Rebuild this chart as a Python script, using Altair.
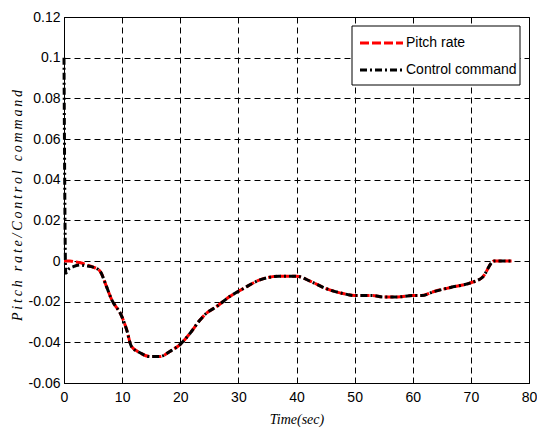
import altair as alt
import pandas as pd

# Time axis (s) and signal values for the two traces
t_pitch = [0, 1.0, 2.0, 3.0, 4.0, 5.0, 6.2, 7.3, 8.2, 9.9, 10.8, 11.6, 13.0, 14.8,
           16.5, 18.2, 20.0, 21.7, 23.4, 24.5, 26.2, 28.5, 30.9, 33.7, 37.0, 40.0,
           42.4, 45.0, 48.0, 50.0, 53.0, 55.0, 57.4, 60.0, 61.5, 63.7, 66.5, 70.0,
           72.0, 74.0, 77.0]
pitch_rate = [0.0, 0.0, -0.0005, -0.001, -0.002, -0.003, -0.005, -0.0125, -0.019,
              -0.027, -0.034, -0.042, -0.045, -0.047, -0.047, -0.0445, -0.041,
              -0.0355, -0.029, -0.0257, -0.0225, -0.0175, -0.0135, -0.0093, -0.0075,
              -0.0075, -0.010, -0.0135, -0.016, -0.017, -0.017, -0.0177, -0.0177,
              -0.017, -0.017, -0.015, -0.013, -0.0107, -0.008, 0.0, 0.0]

t_control = [0, 0.3, 0.8, 1.6, 2.8, 4.0, 5.0, 6.2, 7.3, 8.2, 9.9, 10.8, 11.6, 13.0,
             14.8, 16.5, 18.2, 20.0, 21.7, 23.4, 24.5, 26.2, 28.5, 30.9, 33.7, 37.0,
             40.0, 42.4, 45.0, 48.0, 50.0, 53.0, 55.0, 57.4, 60.0, 61.5, 63.7, 66.5,
             70.0, 72.0, 74.0, 77.0]
control_cmd = [0.1, -0.006, -0.004, -0.0028, -0.002, -0.0025, -0.003, -0.005, -0.0125,
               -0.019, -0.027, -0.034, -0.042, -0.045, -0.047, -0.047, -0.0445, -0.041,
               -0.0355, -0.029, -0.0257, -0.0225, -0.0175, -0.0135, -0.0093, -0.0075,
               -0.0075, -0.010, -0.0135, -0.016, -0.017, -0.017, -0.0177, -0.0177,
               -0.017, -0.017, -0.015, -0.013, -0.0107, -0.008, 0.0, 0.0]

series_names = ["Pitch rate", "Control command"]
x_ticks = [0, 10, 20, 30, 40, 50, 60, 70, 80]
y_ticks = [-0.06, -0.04, -0.02, 0, 0.02, 0.04, 0.06, 0.08, 0.1, 0.12]

pitch_df = pd.DataFrame({"t": t_pitch, "v": pitch_rate})
control_df = pd.DataFrame({"t": t_control, "v": control_cmd})

W, H = 465, 366

ytitle = "\u2009".join("Pitch rate/Control command")

x_enc = alt.X("t:Q", scale=alt.Scale(domain=[0, 80], nice=False),
              axis=alt.Axis(values=x_ticks, title="Time(sec)", labelFlush=False))
y_enc = alt.Y("v:Q", scale=alt.Scale(domain=[-0.06, 0.12], nice=False),
              axis=alt.Axis(values=y_ticks, title=ytitle,
                            titleX=-47, titleY=188, titleAngle=-90,
                            titleAlign="center", titleBaseline="middle",
                            labelExpr="replace(format(datum.value, '.2~f'), '\u2212', '-')"))

pitch_line = alt.Chart(pitch_df).mark_line(
    color="#ff0000", strokeWidth=3, strokeDash=[9, 3], interpolate="monotone"
).encode(x=x_enc, y=y_enc)

control_line = alt.Chart(control_df).mark_line(
    color="#000000", strokeWidth=3, strokeDash=[7, 3, 2, 3], interpolate="monotone"
).encode(x="t:Q", y="v:Q")

# Legend box in the upper right corner
one = pd.DataFrame({"k": [0]})
box = alt.Chart(one).mark_rect(
    fill="white", stroke="black", strokeWidth=1
).encode(x=alt.value(288), x2=alt.value(456), y=alt.value(9), y2=alt.value(68))

leg_pitch = alt.Chart(one).mark_rule(
    color="#ff0000", strokeWidth=3, strokeDash=[9, 3]
).encode(x=alt.value(296), x2=alt.value(339), y=alt.value(26))
leg_control = alt.Chart(one).mark_rule(
    color="#000000", strokeWidth=3, strokeDash=[7, 3, 2, 3]
).encode(x=alt.value(296), x2=alt.value(339), y=alt.value(53))

leg_style = dict(align="left", baseline="middle", font="Liberation Sans",
                 fontSize=14, color="black")
leg_text1 = alt.Chart(one).mark_text(text=series_names[0], **leg_style).encode(
    x=alt.value(342), y=alt.value(26))
leg_text2 = alt.Chart(one).mark_text(text=series_names[1], **leg_style).encode(
    x=alt.value(342), y=alt.value(53))

chart = alt.layer(
    pitch_line, control_line, box, leg_pitch, leg_control, leg_text1, leg_text2
).properties(
    width=W, height=H,
    autosize=alt.AutoSizeParams(type="none"),
    padding={"left": 64, "top": 17, "right": 8, "bottom": 50},
    background="white",
).configure_view(
    stroke="black", strokeWidth=1
).configure_axis(
    domainColor="black", domainWidth=1,
    grid=True, gridColor="black", gridDash=[6, 4], gridWidth=1, gridOpacity=1,
    tickSize=0,
    labelFont="Liberation Sans", labelFontSize=14, labelColor="black",
    titleFont="Liberation Serif", titleFontStyle="italic", titleFontWeight="normal",
    titleColor="black",
).configure_axisY(
    labelPadding=4, titleFontSize=14,
).configure_axisX(
    labelPadding=7, titleFontSize=14, titlePadding=8,
)

chart.save("out.html", embed_options={"renderer": "svg", "actions": False})
